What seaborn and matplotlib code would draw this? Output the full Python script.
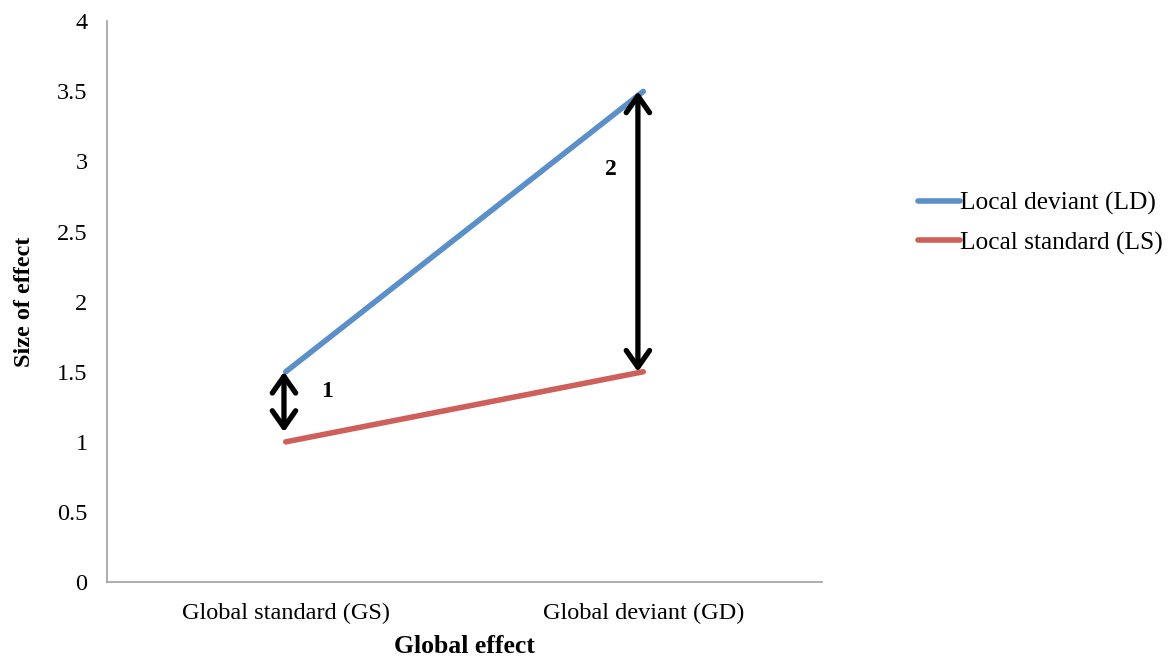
import matplotlib
matplotlib.use("Agg")
import matplotlib.pyplot as plt
import seaborn as sns
import pandas as pd

conditions = ["Global standard (GS)", "Global deviant (GD)"]
local_deviant = [1.5, 3.5]
local_standard = [1.0, 1.5]
series_names = ["Local deviant (LD)", "Local standard (LS)"]
series_colors = ["#5b8fc9", "#cf5f5a"]
y_ticks = [0, 0.5, 1, 1.5, 2, 2.5, 3, 3.5, 4]

sns.set_style("white")
plt.rcParams["font.family"] = ["Liberation Serif", "DejaVu Serif"]
plt.rcParams["text.color"] = "black"
plt.rcParams["axes.labelcolor"] = "black"
plt.rcParams["xtick.labelcolor"] = "black"
plt.rcParams["ytick.labelcolor"] = "black"

df = pd.DataFrame({
    "pos": [0.5, 1.5, 0.5, 1.5],
    "value": local_deviant + local_standard,
    "series": [series_names[0]] * 2 + [series_names[1]] * 2,
})

fig = plt.figure(figsize=(11.76, 6.62), dpi=100)
ax = fig.add_axes([0.091, 0.1208, 0.608, 0.847])

sns.lineplot(data=df, x="pos", y="value", hue="series",
             palette=dict(zip(series_names, series_colors)),
             linewidth=4, solid_capstyle="round", ax=ax, legend=False)

ax.set_xlim(0, 2)
ax.set_ylim(0, 4)
ax.set_yticks(y_ticks)
ax.set_yticklabels([f"{t:g}" for t in y_ticks], fontsize=17.5, color="black")
ax.set_xticks([0, 1, 2])
ax.set_xticklabels([])
ax.set_xticks([0.5, 1.5], minor=True)
ax.set_xticklabels(conditions, minor=True, fontsize=17.5, color="black")
ax.tick_params(axis="x", which="minor", length=0, pad=15)
ax.tick_params(axis="x", which="major", length=6, color="#a0a0a0", direction="out")
ax.tick_params(axis="y", length=6, color="#a0a0a0", direction="out", pad=8)

for side in ["top", "right"]:
    ax.spines[side].set_visible(False)
for side in ["left", "bottom"]:
    ax.spines[side].set_color("#a0a0a0")
    ax.spines[side].set_linewidth(1.2)

ax.set_xlabel("Global effect", fontsize=18.5, fontweight="bold", labelpad=8, color="black")
ax.set_ylabel("Size of effect", fontsize=17.5, fontweight="bold", labelpad=16, color="black")

# difference arrows between local conditions
arrow_style = dict(arrowstyle="<->,head_length=0.6,head_width=0.42", lw=3.8, color="black",
                   shrinkA=0, shrinkB=0, mutation_scale=20)
ax.annotate("", xy=(0.495, local_deviant[0]), xytext=(0.495, 1.07), arrowprops=arrow_style)
ax.annotate("", xy=(1.485, local_deviant[1]), xytext=(1.485, local_standard[1]), arrowprops=arrow_style)
ax.text(0.615, 1.36, "1", fontsize=17, fontweight="bold", ha="center", va="center", color="black")
ax.text(1.41, 2.94, "2", fontsize=17, fontweight="bold", ha="center", va="center", color="black")

handles = [plt.Line2D([], [], color=c, lw=4, solid_capstyle="round") for c in series_colors]
fig.legend(handles, series_names, loc="upper left", bbox_to_anchor=(0.761, 0.745),
           frameon=False, fontsize=18.3, handlelength=1.65, handletextpad=0.0,
           labelspacing=0.65, labelcolor="black")

fig.savefig("out.png", dpi=100)
